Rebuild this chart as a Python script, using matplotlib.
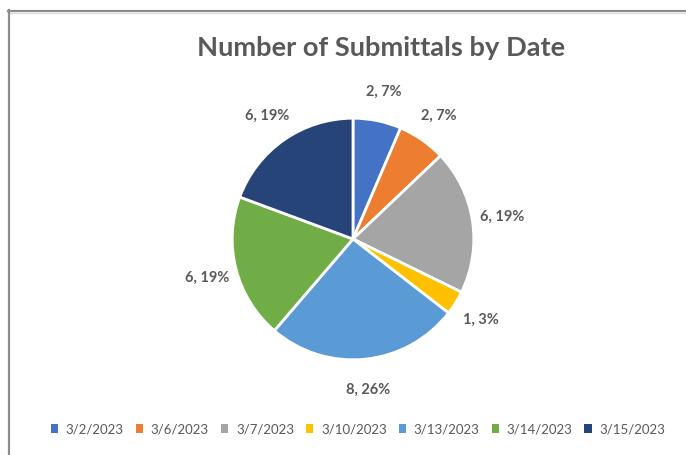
import matplotlib.pyplot as plt
from matplotlib.lines import Line2D
from matplotlib.patches import Patch

dates = ['3/2/2023', '3/6/2023', '3/7/2023', '3/10/2023', '3/13/2023', '3/14/2023', '3/15/2023']
counts = [2, 2, 6, 1, 8, 6, 6]
percents = ['7%', '7%', '19%', '3%', '26%', '19%', '19%']
colors = ['#4472C4', '#ED7D31', '#A5A5A5', '#FFC000', '#5B9BD5', '#70AD47', '#264478']

W, H = 686, 456
fig = plt.figure(figsize=(W / 100, H / 100), dpi=100)

# chart frame (cut off at right and bottom)
fig.add_artist(Line2D([8 / W, 1], [1 - 11.5 / H, 1 - 11.5 / H], color='#8c8c8c', lw=1.6))
fig.add_artist(Line2D([8 / W, 1], [1 - 13.5 / H, 1 - 13.5 / H], color='#dcdcdc', lw=1.0))
fig.add_artist(Line2D([8.5 / W, 8.5 / W], [0, 1 - 11 / H], color='#8c8c8c', lw=1.6))

# pie axes: centre (353, 240), radius 122 px
cx, cy, r = 353, 240, 122
ax = fig.add_axes([(cx - r) / W, (H - cy - r) / H, 2 * r / W, 2 * r / H])

labels = [f'{c}, {p}' for c, p in zip(counts, percents)]
wedges, texts = ax.pie(counts, colors=colors, startangle=90, counterclock=False,
                       labels=labels, labeldistance=1.25,
                       wedgeprops=dict(edgecolor='white', linewidth=2))
for t in texts:
    t.set_ha('center')
    t.set_va('center')
    t.set_fontsize(10.5)
    t.set_fontweight('bold')
    t.set_color('#595959')
    t.set_family('Lato')
ax.set_xlim(-1.01, 1.01)
ax.set_ylim(-1.01, 1.01)

fig.text(381 / W, 1 - 48 / H, 'Number of Submittals by Date', ha='center', va='center',
         fontsize=19.6, fontweight='bold', color='#595959', family='Lato')

handles = [Patch(facecolor=c, edgecolor='none') for c in colors]
fig.legend(handles, dates, loc='center', bbox_to_anchor=(358 / W, 1 - 430 / H), ncol=7,
           frameon=False, handlelength=0.55, handleheight=0.7, handletextpad=0.6,
           columnspacing=0.9, prop={'family': 'Lato', 'size': 9.5},
           labelcolor='#595959')

fig.savefig('out.png', dpi=100)
